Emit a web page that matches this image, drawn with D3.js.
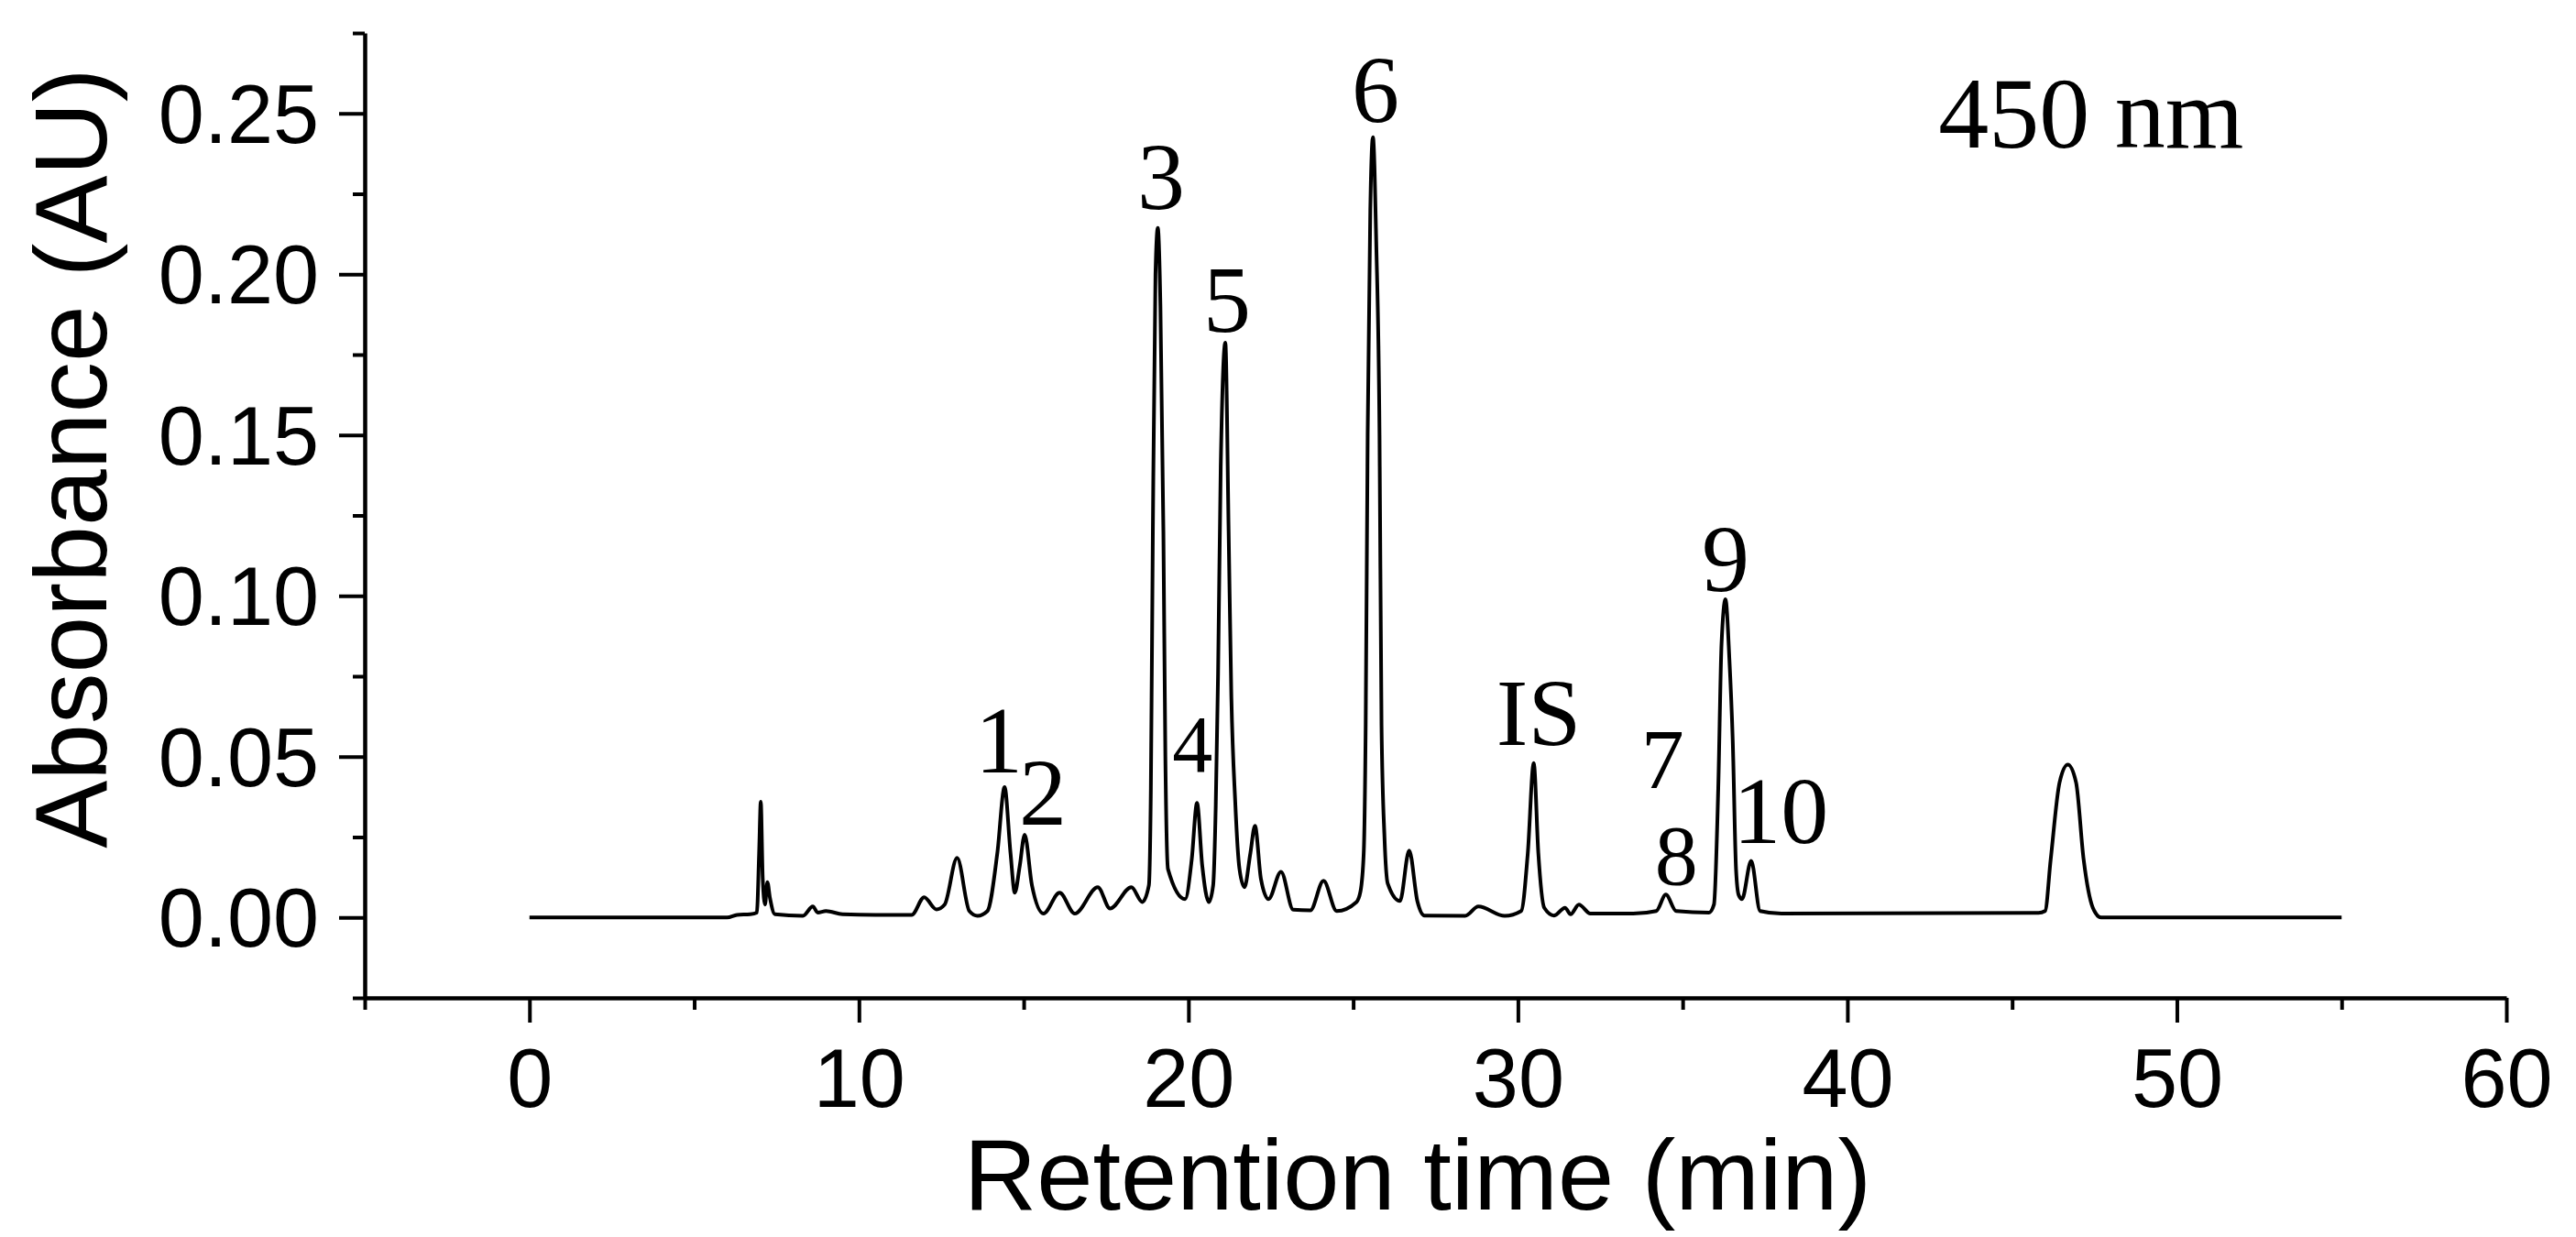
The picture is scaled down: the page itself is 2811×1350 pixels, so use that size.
<!DOCTYPE html>
<html>
<head>
<meta charset="utf-8">
<script src="https://cdn.jsdelivr.net/npm/d3@7"></script>
<style>
  html, body { margin: 0; padding: 0; background: #fff; }
  svg { display: block; }
</style>
</head>
<body>
<svg id="chart" width="2811" height="1350"></svg>
<script>
// ---- Data (retention time in min, absorbance in AU) ----
const retentionTime = [
  0, 6.0, 6.3, 6.7, 6.9,
  6.97, 7.02, 7.08, 7.15, 7.22, 7.3, 7.45,
  8.3, 8.6, 8.75, 9.0, 9.5, 10.5, 11.6,
  11.98, 12.35, 12.6, 12.98, 13.35, 13.6, 13.9,
  14.2, 14.42, 14.6, 14.73, 14.88, 15.03, 15.25, 15.6,
  16.09, 16.55, 17.25, 17.62, 18.27, 18.6,
  18.8, 18.86, 18.92, 19.0, 19.07, 19.15, 19.24, 19.3, 19.38,
  19.9, 20.1, 20.26, 20.42, 20.62,
  20.75, 20.83, 20.9, 20.98, 21.12, 21.22, 21.3, 21.42, 21.55, 21.7,
  21.88, 22.02, 22.2, 22.43, 22.81, 23.18, 23.7, 24.1, 24.5, 25.1,
  25.22, 25.32, 25.38, 25.44, 25.52, 25.6, 25.7, 25.8, 25.86, 25.95, 26.05,
  26.42, 26.7, 26.95, 27.16, 28.4, 28.8, 29.6,
  30.1, 30.3, 30.48, 30.62, 30.8, 31.1, 31.43, 31.6, 31.85, 32.2, 33.5,
  34.2, 34.49, 34.8, 35.8,
  35.95, 36.08, 36.18, 36.3, 36.42, 36.52, 36.62, 36.7, 36.8,
  37.08, 37.35, 38.0, 45.8,
  46.0, 46.17, 46.44, 46.69, 46.94, 47.17, 47.45, 47.7, 55
];
const absorbance = [
  0, 0.0, 0.0008, 0.001, 0.0015,
  0.02, 0.036, 0.012, 0.004, 0.011, 0.006, 0.001,
  0.0005, 0.0034, 0.0015, 0.002, 0.001, 0.0008, 0.0008,
  0.0063, 0.0025, 0.004, 0.0185, 0.002, 0.0005, 0.002,
  0.02, 0.0405, 0.02, 0.0077, 0.016, 0.0257, 0.01, 0.0012,
  0.0077, 0.0012, 0.0094, 0.0028, 0.0094, 0.0048,
  0.01, 0.04, 0.12, 0.2, 0.2144, 0.19, 0.12, 0.05, 0.015,
  0.0057, 0.018, 0.0356, 0.016, 0.0048,
  0.01, 0.035, 0.076, 0.14, 0.1787, 0.12, 0.07, 0.036, 0.015, 0.0094,
  0.02, 0.0285, 0.012, 0.0057, 0.0142, 0.0024, 0.0022, 0.0114, 0.002, 0.0048,
  0.008, 0.02, 0.06, 0.15, 0.22, 0.2426, 0.21, 0.15, 0.06, 0.025, 0.0105,
  0.0051, 0.0208, 0.005, 0.0006, 0.0005, 0.0034, 0.0005,
  0.002, 0.02, 0.048, 0.02, 0.003, 0.0006, 0.003, 0.001, 0.004, 0.0012, 0.0012,
  0.002, 0.0071, 0.002, 0.0015,
  0.004, 0.04, 0.085, 0.0989, 0.08, 0.055, 0.015, 0.007, 0.0057,
  0.0176, 0.002, 0.0012, 0.0014,
  0.002, 0.018, 0.042, 0.0475, 0.042, 0.018, 0.003, 0.0, 0
];

// Peak annotations (text, anchored at retention time / absorbance)
const peakNames = ["1", "2", "3", "4", "5", "6", "IS", "7", "8", "9", "10"];
const peakLabelTime = [14.25, 15.58, 19.17, 20.12, 21.17, 25.68, 30.63, 34.39, 34.81, 36.3, 37.98];
const peakLabelAbs = [0.045, 0.0288, 0.2202, 0.0453, 0.182, 0.2473, 0.0536, 0.0402, 0.0103, 0.1014, 0.0231];

const wavelengthLabel = "450 nm";
const wavelengthPos = [42.76, 0.2393];

// Axis ticks
const xMajorTicks = [0, 10, 20, 30, 40, 50, 60];
const xMinorTicks = [-5, 5, 15, 25, 35, 45, 55];
const yMajorTicks = [0.00, 0.05, 0.10, 0.15, 0.20, 0.25];
const yMinorTicks = [-0.025, 0.025, 0.075, 0.125, 0.175, 0.225, 0.275];
const xDomain = [-5, 60];
const yDomain = [-0.025, 0.275];
const xTitle = "Retention time (min)";
const yTitle = "Absorbance (AU)";

// ---- Drawing ----
(function () {
  const svg = d3.select("#chart");
  const mLeft = 398, mRight = 2735, mTop = 36, mBottom = 1089;

  const x = d3.scaleLinear().domain(xDomain).range([mLeft, mRight]);
  const y = d3.scaleLinear().domain(yDomain).range([mBottom, mTop]);

  const sansFont = "'Liberation Sans', Arial, sans-serif";
  const serifFont = "'Liberation Serif', 'Times New Roman', serif";
  const labelSize = name => (name === "4" ? 88 : (name === "7" || name === "8") ? 94 : 104);

  // X axis
  const gx = svg.append("g").attr("transform", `translate(0,${mBottom})`);
  gx.call(d3.axisBottom(x).tickValues(xMajorTicks).tickSize(27).tickSizeOuter(0).tickPadding(28).tickFormat(d3.format("d")));
  gx.append("g").call(d3.axisBottom(x).tickValues(xMinorTicks).tickSize(13).tickFormat("")).select(".domain").remove();

  // Y axis
  const gy = svg.append("g").attr("transform", `translate(${mLeft},0)`);
  gy.call(d3.axisLeft(y).tickValues(yMajorTicks).tickSize(28).tickSizeOuter(0).tickPadding(22).tickFormat(d3.format(".2f")));
  gy.append("g").call(d3.axisLeft(y).tickValues(yMinorTicks).tickSize(13).tickFormat("")).select(".domain").remove();

  svg.selectAll(".domain").attr("stroke", "#000").attr("stroke-width", 4.5);
  svg.selectAll(".tick line").attr("stroke", "#000").attr("stroke-width", 4);
  svg.selectAll(".tick text")
    .attr("font-family", sansFont)
    .attr("font-size", 90)
    .attr("fill", "#000");
  gy.selectAll(".tick text").attr("dy", "0.35em");
  gx.selectAll(".tick text").attr("dy", "0.71em");

  // Axis titles
  svg.append("text")
    .attr("x", 1547)
    .attr("y", 1320)
    .attr("text-anchor", "middle")
    .attr("font-family", sansFont)
    .attr("font-size", 110)
    .attr("fill", "#000")
    .text(xTitle);

  svg.append("text")
    .attr("transform", `translate(116,500) rotate(-90)`)
    .attr("text-anchor", "middle")
    .attr("font-family", sansFont)
    .attr("font-size", 111)
    .attr("fill", "#000")
    .text(yTitle);

  // Chromatogram trace
  const trace = retentionTime.map((t, i) => [t, absorbance[i]]);
  const line = d3.line()
    .x(d => x(d[0]))
    .y(d => y(d[1]))
    .curve(d3.curveMonotoneX);

  svg.append("path")
    .datum(trace)
    .attr("d", line)
    .attr("fill", "none")
    .attr("stroke", "#000")
    .attr("stroke-width", 4)
    .attr("stroke-linejoin", "round");

  // Peak labels
  svg.append("g")
    .attr("font-family", serifFont)
    .attr("fill", "#000")
    .attr("text-anchor", "middle")
    .selectAll("text")
    .data(peakNames)
    .join("text")
    .attr("x", (d, i) => x(peakLabelTime[i]))
    .attr("y", (d, i) => y(peakLabelAbs[i]))
    .attr("font-size", d => labelSize(d))
    .text(d => d);

  // Wavelength label
  svg.append("text")
    .attr("x", x(wavelengthPos[0]))
    .attr("y", y(wavelengthPos[1]))
    .attr("font-family", serifFont)
    .attr("font-size", 110)
    .attr("fill", "#000")
    .text(wavelengthLabel);
})();
</script>
</body>
</html>
